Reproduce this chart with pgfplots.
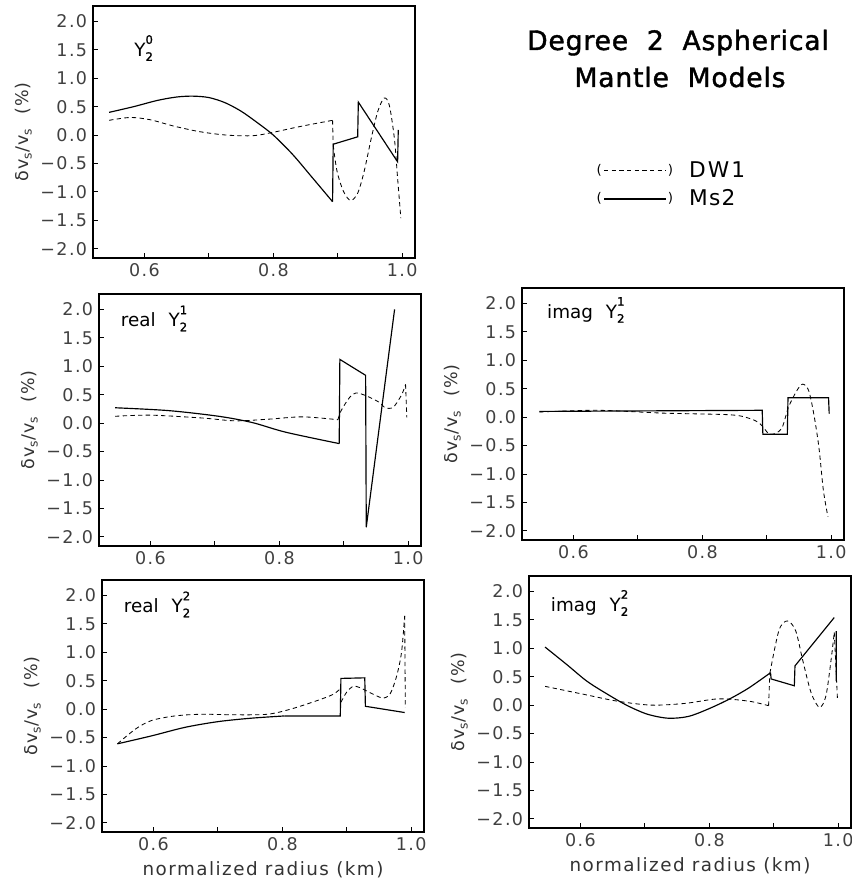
\documentclass[border=0pt]{standalone}
\usepackage{fontspec}
\setmainfont{DejaVu Sans}
\usepackage{pgfplots}
\pgfplotsset{compat=1.18}
\pgfplotsset{
  panel/.style={
    width=193.2pt, height=151.2pt, scale only axis,
    xmin=0.52, xmax=1.02, ymin=-2.16, ymax=2.27,
    axis line style={line width=1.1pt},
    tick pos=left, tick align=inside,
    major tick length=3pt, minor tick length=3pt,
    every tick/.style={black, line width=0.6pt},
    xtick={0.6,0.8,1.0}, minor xtick={0.7,0.9},
    xticklabels={0.6,0.8,1.0},
    ytick={-2,-1.5,-1,-0.5,0,0.5,1,1.5,2},
    yticklabels={−2.0,−1.5,−1.0,−0.5,0.0,0.5,1.0,1.5,2.0},
    /pgf/number format/assume math mode=true,
    ticklabel style={font=\fontsize{10.5}{12}\selectfont\addfontfeature{LetterSpace=8}, text=black!75},
    ylabel={δv\textsubscript{s}/v\textsubscript{s}\ \ (\%)},
    ylabel style={at={(axis description cs:-0.215,0.5)}, anchor=center, font=\fontsize{10.5}{12}\selectfont\addfontfeature{LetterSpace=6}, text=black!80},
    unbounded coords=jump,
  },
}
\tikzset{
  dw/.style={black, line width=0.5pt, dash pattern=on 2.6pt off 2pt},
  ms/.style={black, line width=0.7pt},
  plab/.style={anchor=base west, font=\fontsize{11}{13}\selectfont},
}
\newcommand{\Ysub}[1]{Y\makebox[0pt][l]{\raisebox{-0.45ex}{\fontsize{7}{7}\selectfont\addfontfeature{FakeBold=1.5}2}}\raisebox{1.25ex}{\fontsize{7}{7}\selectfont\addfontfeature{FakeBold=1.5}#1}}
\begin{document}
\begin{tikzpicture}
% ---------- Panel 1: Y20 ----------
\begin{axis}[panel, at={(55.8pt,376.8pt)}, anchor=south west]
\addplot[dw, smooth, tension=0.5] coordinates {(0.545,0.26)(0.578,0.31)(0.609,0.27)(0.645,0.16)(0.686,0.06)(0.728,0.0)(0.769,-0.01)(0.80,0.05)(0.841,0.15)(0.892,0.26)};
\addplot[dw] coordinates {(0.892,0.26)(0.893,-0.18)};
\addplot[dw, smooth, tension=0.5] coordinates {(0.893,-0.18)(0.899,-0.64)(0.909,-0.99)(0.92,-1.15)(0.931,-1.02)(0.941,-0.64)(0.952,-0.06)(0.962,0.41)(0.972,0.65)(0.98,0.53)(0.988,-0.06)(0.993,-0.76)(0.998,-1.46)};
\addplot[ms, smooth, tension=0.5] coordinates {(0.545,0.40)(0.583,0.50)(0.62,0.61)(0.65,0.67)(0.675,0.685)(0.70,0.66)(0.725,0.57)(0.75,0.42)(0.775,0.22)(0.80,0.0)(0.83,-0.34)(0.86,-0.74)(0.892,-1.17)};
\addplot[ms] coordinates {(0.892,-1.17)(0.893,-0.16)(0.931,-0.03)(0.932,0.58)(0.993,-0.47)(0.994,0.09)};
\node[plab] at (rel axis cs:0.11,0.80) {\Ysub{0}};
\end{axis}
% ---------- Panel 2: real Y21 ----------
\begin{axis}[panel, at={(59.4pt,204pt)}, anchor=south west]
\addplot[dw, smooth, tension=0.5] coordinates {(0.545,0.12)(0.60,0.14)(0.68,0.09)(0.732,0.04)(0.784,0.07)(0.836,0.11)(0.891,0.06)};
\addplot[dw, smooth, tension=0.5] coordinates {(0.891,0.06)(0.896,0.22)(0.909,0.45)(0.919,0.53)(0.935,0.48)(0.956,0.36)(0.964,0.27)(0.977,0.28)(0.99,0.50)(0.996,0.68)};
\addplot[dw] coordinates {(0.996,0.68)(0.998,0.10)};
\addplot[ms, smooth, tension=0.5] coordinates {(0.545,0.27)(0.628,0.22)(0.706,0.12)(0.758,0.01)(0.81,-0.16)(0.893,-0.36)};
\addplot[ms] coordinates {(0.893,-0.36)(0.894,1.12)(0.934,0.84)(0.935,-1.83)(0.979,2.0)};
\node[plab] at (rel axis cs:0.05,0.87) {real\hspace{0.7em}\Ysub{1}};
\end{axis}
% ---------- Panel 3: imag Y21 ----------
\begin{axis}[panel, at={(313.2pt,207.6pt)}, anchor=south west,
  legend style={at={(axis description cs:0.215,1.53)}, anchor=north west, draw=none, fill=none,
    font=\fontsize{13}{15}\selectfont\addfontfeature{LetterSpace=6}, row sep=2pt, cells={anchor=west}},
  legend image code/.code={
    \node[inner sep=0pt, anchor=east, font=\fontsize{8}{8}\selectfont] at (0pt,0pt) {(};
    \draw[#1] (1pt,0pt) -- (38pt,0pt);
    \node[inner sep=0pt, anchor=west, font=\fontsize{8}{8}\selectfont] at (39pt,0pt) {)};
    \path[draw=none, fill=none] (0pt,0pt) rectangle (50pt,0.1pt);
  }]
\addplot[dw, smooth, tension=0.5] coordinates {(0.547,0.09)(0.637,0.12)(0.74,0.07)(0.844,0.04)(0.875,-0.03)(0.89,-0.12)(0.903,-0.29)(0.913,-0.29)(0.924,-0.18)(0.934,0.18)(0.947,0.47)(0.956,0.58)(0.965,0.47)(0.973,0.06)(0.981,-0.53)(0.988,-1.29)(0.995,-1.75)};
\addlegendentry{D\kern0.1em W\kern0.1em 1}
\addplot[ms] coordinates {(0.547,0.10)(0.893,0.12)(0.894,-0.30)(0.932,-0.30)(0.933,0.34)(0.996,0.34)(0.997,0.06)};
\addlegendentry{Ms2}
\node[plab] at (rel axis cs:0.06,0.88) {imag\hspace{0.7em}\Ysub{1}};
\end{axis}
% ---------- Panel 4: real Y22 ----------
\begin{axis}[panel, at={(61.2pt,32.4pt)}, anchor=south west,
  xlabel={normalized radius (km)},
  xlabel style={at={(axis description cs:0.5,-0.15)}, anchor=center, font=\fontsize{11}{13}\selectfont\addfontfeature{LetterSpace=8}, text=black!80}]
\addplot[dw, smooth, tension=0.5] coordinates {(0.544,-0.61)(0.572,-0.35)(0.597,-0.20)(0.633,-0.12)(0.674,-0.09)(0.726,-0.10)(0.777,-0.09)(0.813,0.0)(0.854,0.15)(0.879,0.26)(0.890,0.36)};
\addplot[dw] coordinates {(0.890,0.36)(0.891,0.12)};
\addplot[dw, smooth, tension=0.5] coordinates {(0.891,0.12)(0.90,0.30)(0.91,0.40)(0.92,0.38)(0.936,0.29)(0.951,0.21)(0.956,0.19)(0.967,0.26)(0.977,0.56)(0.985,0.99)(0.990,1.64)};
\addplot[dw] coordinates {(0.990,1.64)(0.991,0.02)};
\addplot[ms, smooth, tension=0.5] coordinates {(0.544,-0.61)(0.597,-0.47)(0.649,-0.32)(0.70,-0.22)(0.751,-0.16)(0.803,-0.12)};
\addplot[ms] coordinates {(0.803,-0.12)(0.890,-0.12)(0.891,0.54)(0.928,0.55)(0.929,0.05)(0.99,-0.06)};
\node[plab] at (rel axis cs:0.05,0.87) {real\hspace{0.7em}\Ysub{2}};
\end{axis}
% ---------- Panel 5: imag Y22 ----------
\begin{axis}[panel, at={(317.4pt,34.8pt)}, anchor=south west,
  xlabel={normalized radius (km)},
  xlabel style={at={(axis description cs:0.5,-0.15)}, anchor=center, font=\fontsize{11}{13}\selectfont\addfontfeature{LetterSpace=8}, text=black!80}]
\addplot[dw, smooth, tension=0.5] coordinates {(0.545,0.33)(0.605,0.19)(0.657,0.07)(0.71,0.0)(0.762,0.03)(0.814,0.11)(0.861,0.07)(0.892,-0.01)};
\addplot[dw] coordinates {(0.892,-0.01)(0.894,0.56)};
\addplot[dw, smooth, tension=0.5] coordinates {(0.894,0.56)(0.908,1.31)(0.921,1.48)(0.934,1.31)(0.945,0.79)(0.958,0.22)(0.971,-0.04)(0.981,0.16)(0.989,0.79)(0.994,1.28)};
\addplot[dw] coordinates {(0.994,1.28)(0.999,0.10)};
\addplot[ms, smooth, tension=0.5] coordinates {(0.545,1.02)(0.579,0.71)(0.610,0.42)(0.642,0.19)(0.673,-0.01)(0.704,-0.16)(0.736,-0.23)(0.767,-0.20)(0.798,-0.07)(0.830,0.10)(0.861,0.30)(0.895,0.57)};
\addplot[ms] coordinates {(0.895,0.57)(0.896,0.46)(0.932,0.34)(0.933,0.69)(0.994,1.54)(0.995,nan)(0.997,1.30)(0.997,0.42)};
\node[plab] at (rel axis cs:0.05,0.86) {imag\hspace{0.7em}\Ysub{2}};
\end{axis}
% ---------- Title ----------
\node[anchor=base, font=\fontsize{16}{19}\selectfont\addfontfeature{FakeBold=1.5,LetterSpace=3}] at (406.8pt,501.6pt) {Degree\hspace{0.7em}2\hspace{0.7em}Aspherical};
\node[anchor=base, font=\fontsize{16}{19}\selectfont\addfontfeature{FakeBold=1.5,LetterSpace=3}] at (408pt,479.4pt) {Mantle\hspace{0.7em}Models};
\pgfresetboundingbox
\useasboundingbox (0,0) rectangle (510.6pt,531.6pt);
\end{tikzpicture}
\end{document}
